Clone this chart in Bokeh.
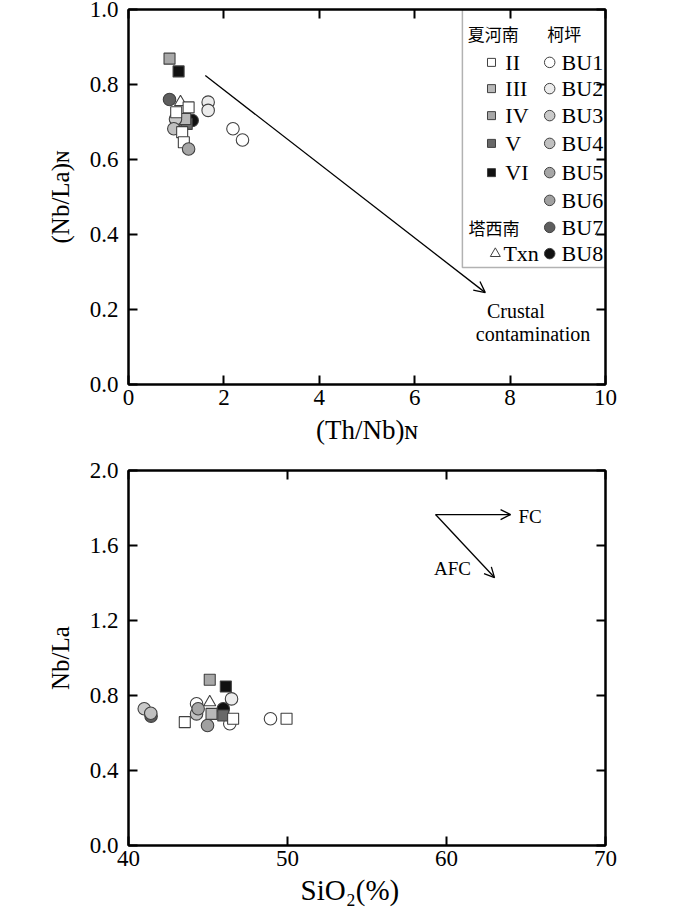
import numpy as np
from bokeh.plotting import figure
from bokeh.models import (LinearAxis, FixedTicker, Range1d, Label, Arrow,
                          OpenHead, BoxAnnotation, PrintfTickFormatter, Title)
from bokeh.layouts import column
from bokeh.embed import file_html
from bokeh.resources import INLINE

SERIF = "Liberation Serif"
CJK = "Noto Sans CJK SC"

# ---------------- data: top panel (Th/Nb)N vs (Nb/La)N ----------------
top_II_x = [1.00, 1.26, 1.125, 1.16]
top_II_y = [0.726, 0.739, 0.673, 0.646]
top_III_x = [1.19]
top_III_y = [0.708]
top_IV_x = [0.86]
top_IV_y = [0.869]
top_V_x = [1.22]
top_V_y = [0.695]
top_VI_x = [1.05]
top_VI_y = [0.835]
top_BU1_x = [2.19, 2.39]
top_BU1_y = [0.682, 0.652]
top_BU2_x = [1.67, 1.67]
top_BU2_y = [0.753, 0.731]
top_BU3_x = [0.985]
top_BU3_y = [0.708]
top_BU4_x = [0.95]
top_BU4_y = [0.682]
top_BU5_x = [1.26]
top_BU5_y = [0.628]
top_BU6_x = [1.18]
top_BU6_y = [0.700]
top_BU7_x = [0.86]
top_BU7_y = [0.760]
top_BU8_x = [1.335]
top_BU8_y = [0.704]
top_Txn_x = [1.09]
top_Txn_y = [0.753]

# ---------------- data: bottom panel SiO2 vs Nb/La ----------------
bot_II_x = [43.54, 46.58, 49.94]
bot_II_y = [0.658, 0.676, 0.676]
bot_III_x = [45.22]
bot_III_y = [0.702]
bot_IV_x = [45.11]
bot_IV_y = [0.884]
bot_V_x = [45.96]
bot_V_y = [0.693]
bot_VI_x = [46.12]
bot_VI_y = [0.848]
bot_BU1_x = [44.28, 46.37, 48.93]
bot_BU1_y = [0.756, 0.649, 0.676]
bot_BU2_x = [46.48]
bot_BU2_y = [0.782]
bot_BU3_x = [40.99]
bot_BU3_y = [0.729]
bot_BU4_x = [41.40, 44.28]
bot_BU4_y = [0.705, 0.702]
bot_BU5_x = [44.38]
bot_BU5_y = [0.729]
bot_BU6_x = [44.97]
bot_BU6_y = [0.640]
bot_BU7_x = [41.42]
bot_BU7_y = [0.690]
bot_BU8_x = [45.96]
bot_BU8_y = [0.729]
bot_Txn_x = [45.11]
bot_Txn_y = [0.764]

top_xticks = [0, 2, 4, 6, 8, 10]
top_yticks = [0.0, 0.2, 0.4, 0.6, 0.8, 1.0]
bot_xticks = [40, 50, 60, 70]
bot_yticks = [0.0, 0.4, 0.8, 1.2, 1.6, 2.0]

square_names = ["II", "III", "IV", "V", "VI"]
circle_names = ["BU1", "BU2", "BU3", "BU4", "BU5", "BU6", "BU7", "BU8"]

# ---------------- styles ----------------
fills = {"II": "white", "III": "#b8b8b8", "IV": "#a8a8a8", "V": "#686868",
         "VI": "#111111", "BU1": "white", "BU2": "#ececec", "BU3": "#cacaca",
         "BU4": "#c0c0c0", "BU5": "#a6a6a6", "BU6": "#a0a0a0",
         "BU7": "#5e5e5e", "BU8": "#111111", "Txn": "white"}
markers = {n: "square" for n in square_names}
markers.update({n: "circle" for n in circle_names})
markers["Txn"] = "triangle"
sizes = {"square": 11, "circle": 12.5, "triangle": 12}

top_data = {n: (globals()["top_%s_x" % n], globals()["top_%s_y" % n])
            for n in square_names + circle_names + ["Txn"]}
bot_data = {n: (globals()["bot_%s_x" % n], globals()["bot_%s_y" % n])
            for n in square_names + circle_names + ["Txn"]}
draw_order = ["BU1", "BU2", "BU7", "Txn", "BU6", "BU8", "V", "III", "BU3",
              "BU4", "II", "BU5", "IV", "VI"]


def make_fig(xr, yr, xt, yt, top, bottom, ylabel, xlabel, xalign, xoffset,
             xsize, xstandoff):
    p = figure(frame_width=477, frame_height=375, x_range=Range1d(*xr),
               y_range=Range1d(*yr), output_backend="svg",
               toolbar_location=None, min_border_left=128,
               min_border_right=30, min_border_top=top,
               min_border_bottom=bottom)
    p.xgrid.visible = False
    p.ygrid.visible = False
    p.outline_line_color = "black"
    p.outline_line_width = 2
    p.background_fill_color = "white"
    p.border_fill_color = "white"
    for ax, ticks in ((p.xaxis[0], xt), (p.yaxis[0], yt)):
        ax.ticker = FixedTicker(ticks=ticks)
        ax.major_tick_in = 9
        ax.major_tick_out = 0
        ax.minor_tick_line_color = None
        ax.axis_line_width = 2
        ax.major_tick_line_width = 2
        ax.major_label_text_font = SERIF
        ax.major_label_text_font_size = "23px"
        ax.major_label_text_color = "black"
    p.yaxis.formatter = PrintfTickFormatter(format="%.1f")
    p.xaxis.major_label_standoff = 5
    p.yaxis.major_label_standoff = 10
    p.yaxis.axis_label = ylabel
    p.yaxis.axis_label_text_font = SERIF
    p.yaxis.axis_label_text_font_size = "25px"
    p.yaxis.axis_label_text_font_style = "normal"
    p.yaxis.axis_label_text_color = "black"
    p.yaxis.axis_label_standoff = 13
    for side, ticks in (("right", yt), ("above", xt)):
        ax = LinearAxis(ticker=FixedTicker(ticks=ticks), major_tick_in=9,
                        major_tick_out=0, minor_tick_line_color=None,
                        axis_line_width=2, major_tick_line_width=2,
                        major_label_overrides={t: "" for t in ticks},
                        major_label_standoff=0)
        p.add_layout(ax, side)
    p.add_layout(Title(text=xlabel, align=xalign, offset=xoffset,
                       text_font=SERIF, text_font_size=xsize,
                       text_font_style="normal", text_color="black",
                       standoff=xstandoff), "below")
    return p


def draw_points(p, data):
    for n in draw_order:
        xs, ys = data[n]
        m = markers[n]
        p.scatter(xs, ys, marker=m, size=sizes[m], fill_color=fills[n],
                  line_color="#404040", line_width=1.1)


def lab(p, x, y, text, size, font=SERIF, align="left", angle=0.0):
    p.add_layout(Label(x=x, y=y, text=text, text_font=font,
                       text_font_size=size, text_align=align,
                       text_baseline="middle", angle=angle,
                       text_color="black"))


# ---------------- top panel ----------------
p1 = make_fig((0, 10), (0, 1.0), top_xticks, top_yticks, 9, 74,
              "(Nb/La)ɴ", "(Th/Nb)ɴ", "center", 0, "27px", 10)
draw_points(p1, top_data)

p1.add_layout(Arrow(end=OpenHead(size=11, line_width=1.3),
                    x_start=1.61, y_start=0.824, x_end=7.48, y_end=0.245,
                    line_width=1.3, line_color="black"))
lab(p1, 8.12, 0.197, "Crustal", "20px", align="center")
lab(p1, 8.48, 0.136, "contamination", "20px", align="center")

# legend box
p1.add_layout(BoxAnnotation(left=7.0, right=10, top=1.0, bottom=0.312,
                            fill_color=None, line_color="black",
                            line_width=1.5))
row_y = [0.859, 0.789, 0.717, 0.643, 0.565, 0.491, 0.419, 0.349]
lab(p1, 7.11, 0.936, "夏河南", "17px", font=CJK)
lab(p1, 8.78, 0.936, "柯坪", "17px", font=CJK)
p1.scatter([7.61] * 5, row_y[:5], marker="square", size=8,
           fill_color=[fills[n] for n in square_names],
           line_color="#404040", line_width=1)
for n, yy in zip(square_names, row_y[:5]):
    lab(p1, 7.90, yy, n, "22px")
p1.scatter([8.83] * 8, row_y, marker="circle", size=10.5,
           fill_color=[fills[n] for n in circle_names],
           line_color="#404040", line_width=1)
for n, yy in zip(circle_names, row_y):
    lab(p1, 9.08, yy, n, "22px")
lab(p1, 7.13, row_y[6], "塔西南", "17px", font=CJK)
p1.scatter([7.69], [row_y[7]], marker="triangle", size=10,
           fill_color="white", line_color="#404040", line_width=1)
lab(p1, 7.86, row_y[7], "Txn", "22px")

# ---------------- bottom panel ----------------
p2 = make_fig((40, 70), (0, 2.0), bot_xticks, bot_yticks, 12, 70,
              "Nb/La", "SiO₂(%)", "left", 172, "29px", 6)
draw_points(p2, bot_data)

p2.add_layout(Arrow(end=OpenHead(size=10, line_width=1.3),
                    x_start=59.31, y_start=1.765, x_end=64.03, y_end=1.765,
                    line_width=1.3, line_color="black"))
p2.add_layout(Arrow(end=OpenHead(size=10, line_width=1.3),
                    x_start=59.31, y_start=1.765, x_end=63.02, y_end=1.429,
                    line_width=1.3, line_color="black"))
lab(p2, 64.53, 1.755, "FC", "19px")
lab(p2, 60.38, 1.477, "AFC", "19px", align="center")

layout = column(p1, p2)
open("out.html", "w").write(file_html(layout, INLINE))
